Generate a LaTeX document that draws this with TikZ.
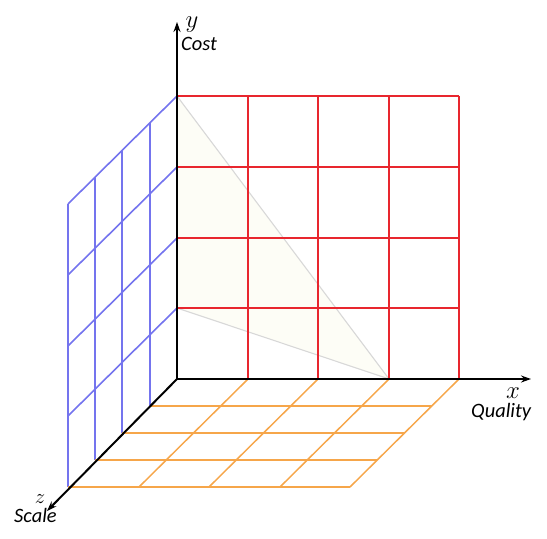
\documentclass[tikz,border=0pt]{standalone}
\usepackage{fontspec}
\newfontfamily\lblfont{Carlito}
\usetikzlibrary{arrows.meta}
\definecolor{gridred}{HTML}{E8262E}
\definecolor{gridblue}{HTML}{7474EE}
\definecolor{gridorange}{HTML}{F6A64A}
\definecolor{faintfill}{HTML}{FDFDF6}
\definecolor{faintgray}{HTML}{D8D8D8}
\tikzset{
  redgrid/.style={draw=gridred, line width=2bp},
  bluegrid/.style={draw=gridblue, line width=1.6bp},
  orangegrid/.style={draw=gridorange, line width=1.5bp},
  axisline/.style={draw=black, line width=2bp, -{Stealth[length=10pt,width=7pt]}},
  guide/.style={draw=faintgray, line width=1.1bp},
  axlabel/.style={inner sep=0pt, font=\fontsize{23}{23}\selectfont},
  wordlabel/.style={inner sep=0pt, font=\fontsize{20.5}{21}\selectfont\lblfont\itshape},
}
\begin{document}
\begin{tikzpicture}[x=1bp,y=-1bp]
\useasboundingbox (0,0) rectangle (547,539);
\coordinate (O) at (177,379);
\coordinate (ytop) at (177,96);
\coordinate (yone) at (177,308);
\coordinate (xthree) at (389,379);
% faint triangle
\fill[faintfill] (ytop) -- (xthree) -- (yone) -- cycle;
\draw[guide] (ytop) -- (xthree);
\draw[guide] (yone) -- (xthree);
% red grid (xy plane)
\foreach \X in {248,318,389,459} {
  \draw[redgrid] (\X,379) -- (\X,96);
}
\foreach \Y in {308,238,167,96} {
  \draw[redgrid] (177,\Y) -- (459,\Y);
}
% blue grid (yz plane)
\foreach \X/\T/\B in {150/123/406,122/150/433,95/177/460,68/204/487} {
  \draw[bluegrid] (\X,\T) -- (\X,\B);
}
\foreach \Y in {308,238,167,96} {
  \draw[bluegrid] (177,\Y) -- (68,\Y+108);
}
% orange grid (xz plane)
\foreach \Y/\L/\R in {406/150/432,433/122/404,460/95/377,487/68/350} {
  \draw[orangegrid] (\L,\Y) -- (\R,\Y);
}
\foreach \X in {248,318,389,459} {
  \draw[orangegrid] (\X,379) -- (\X-109,487);
}
\coordinate (xend) at (531,379);
\coordinate (yend) at (177,22);
\coordinate (zend) at (47,511);
\draw[axisline] (O) -- (xend);
\draw[axisline] (O) -- (yend);
\draw[axisline] (O) -- (zend);
\node[axlabel, anchor=base] (ylab) at (192,28) {$y$};
\node[wordlabel, anchor=base west] (cost) at (181,51) {Cost};
\node[axlabel, anchor=base] (xlab) at (513,398) {$x$};
\node[wordlabel, anchor=base west] (quality) at (471,417) {Quality};
\node[axlabel, anchor=base, font=\fontsize{20}{20}\selectfont] (zlab) at (40,503) {$z$};
\node[wordlabel, anchor=base west] (scale) at (14,522) {Scale};
\end{tikzpicture}
\end{document}
